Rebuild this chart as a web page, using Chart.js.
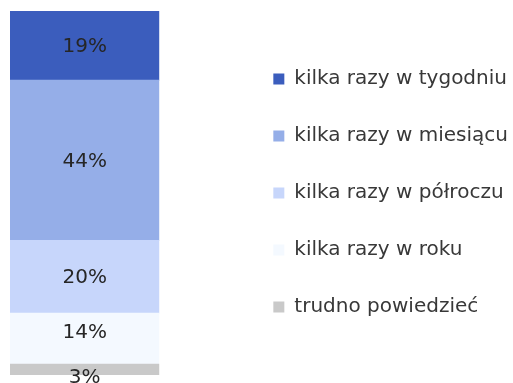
<!DOCTYPE html>
<html lang="pl">
<head>
<meta charset="utf-8">
<title>Częstotliwość</title>
<script src="https://cdn.jsdelivr.net/npm/chart.js@4/dist/chart.umd.min.js"></script>
<style>
  html, body { margin: 0; padding: 0; background: #ffffff; }
  #wrap { width: 513px; height: 383px; }
</style>
</head>
<body>
<div id="wrap"><canvas id="chart" width="513" height="383"></canvas></div>
<script>
// Answer categories, listed top of the stack first
const categories = [''];
const seriesNames = [
  'kilka razy w tygodniu',
  'kilka razy w miesiącu',
  'kilka razy w półroczu',
  'kilka razy w roku',
  'trudno powiedzieć'
];
const seriesValues = [19, 44, 20, 14, 3];
const seriesColors = ['#3B5DBD', '#95AEE8', '#C7D6FB', '#F4F9FF', '#C9C9C9'];

const FONT = '"DejaVu Sans", sans-serif';
const GAP_TO_LEGEND = 77; // empty band between the bar and the legend

// Chart.js stacks the first dataset at the bottom, so feed them bottom-up
const datasets = seriesNames.map((name, i) => ({
  label: name,
  data: [seriesValues[i]],
  backgroundColor: seriesColors[i],
  borderWidth: 0,
  categoryPercentage: 1,
  barPercentage: 1
})).reverse();

// Percentage labels in the middle of each segment, nudged apart when crowded
const segmentLabels = {
  id: 'segmentLabels',
  afterDatasetsDraw(chart) {
    const ctx = chart.ctx;
    const items = [];
    chart.data.datasets.forEach((ds, di) => {
      const meta = chart.getDatasetMeta(di);
      meta.data.forEach((bar, idx) => {
        const v = ds.data[idx];
        items.push({ x: bar.x, y: (bar.y + bar.base) / 2, text: v + '%' });
      });
    });
    items.sort((a, b) => a.y - b.y);
    const minGap = 45;
    for (let i = 0; i < items.length - 1; i++) {
      const d = items[i + 1].y - items[i].y;
      if (d < minGap) {
        const s = (minGap - d) / 2;
        items[i].y -= s;
        items[i + 1].y += s;
      }
    }
    ctx.save();
    ctx.font = '20px ' + FONT;
    ctx.fillStyle = '#262626';
    ctx.textAlign = 'center';
    ctx.textBaseline = 'middle';
    items.forEach(it => ctx.fillText(it.text, it.x, it.y + 1.5));
    ctx.restore();
  }
};

new Chart(document.getElementById('chart'), {
  type: 'bar',
  data: { labels: categories, datasets },
  options: {
    responsive: false,
    animation: false,
    events: [],
    layout: { padding: { left: 10, top: 11, bottom: 8, right: -5 } },
    scales: {
      x: { stacked: true, display: false },
      y: { stacked: true, display: false, min: 0, max: 100 },
      gap: {
        type: 'linear',
        position: 'right',
        display: true,
        grid: { display: false },
        border: { display: false },
        ticks: { display: false },
        afterFit(scale) { scale.width = GAP_TO_LEGEND; }
      }
    },
    plugins: {
      tooltip: { enabled: false },
      legend: {
        position: 'right',
        reverse: true,
        maxWidth: 320,
        labels: {
          boxWidth: 11,
          boxHeight: 11,
          padding: 37,
          color: '#383838',
          font: { family: FONT, size: 20 }
        }
      }
    }
  },
  plugins: [segmentLabels]
});
</script>
</body>
</html>
